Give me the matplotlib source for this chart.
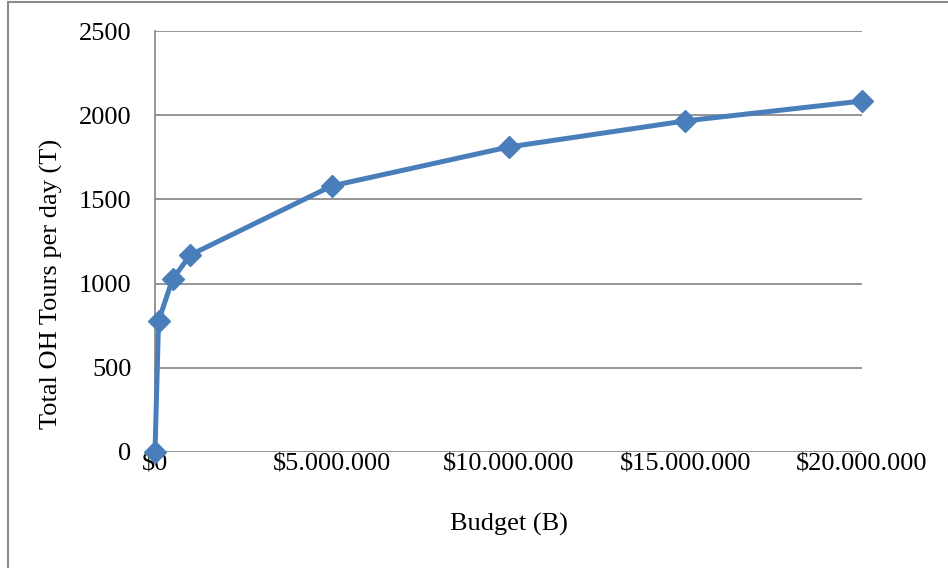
import matplotlib
matplotlib.use("Agg")
import matplotlib.pyplot as plt
from matplotlib.lines import Line2D
from matplotlib.ticker import FuncFormatter

# Budget (B) in dollars and resulting total OH tours per day (T)
budget = [0, 100_000, 500_000, 1_000_000, 5_000_000, 10_000_000, 15_000_000, 20_000_000]
tours = [0, 778, 1028, 1170, 1580, 1811, 1966, 2084]

x_ticks = [0, 5_000_000, 10_000_000, 15_000_000, 20_000_000]
y_ticks = [0, 500, 1000, 1500, 2000, 2500]

plt.rcParams["font.family"] = ["Liberation Serif", "DejaVu Serif"]

W, H = 948, 568
fig = plt.figure(figsize=(W / 100, H / 100), dpi=100)
ax = fig.add_axes([155 / W, 1 - 452 / H, (862 - 155) / W, (452 - 31) / H])

blue = "#4A7EBB"
grid_c = "#8C8C8C"
fs = 19

ax.plot(budget, tours, color=blue, lw=3.6, marker="D", markersize=11.5,
        markerfacecolor=blue, markeredgecolor=blue, solid_joinstyle="round",
        zorder=3, clip_on=False)

ax.set_xlim(0, 20_000_000)
ax.set_ylim(0, 2500)
ax.set_xticks(x_ticks)
ax.set_yticks(y_ticks)


def dollars(v, _pos):
    if v == 0:
        return "$0"
    return "$" + f"{int(v):,}".replace(",", ".")


ax.xaxis.set_major_formatter(FuncFormatter(dollars))
ax.tick_params(axis="both", length=0, labelsize=fs, colors="black")
ax.tick_params(axis="x", pad=1)
ax.tick_params(axis="y", pad=17)

ax.grid(axis="y", color=grid_c, lw=1.3)
ax.set_axisbelow(True)
for side in ("top", "right", "bottom"):
    ax.spines[side].set_visible(False)
ax.spines["left"].set_color(grid_c)
ax.spines["left"].set_linewidth(1.3)

ax.set_xlabel("Budget (B)", fontsize=fs, labelpad=27)
ax.set_ylabel("Total OH Tours per day (T)", fontsize=fs, labelpad=11, y=0.40)

# chart area frame (top and left edges)
fig.add_artist(Line2D([8 / W, 1], [1 - 2 / H, 1 - 2 / H], color=grid_c, lw=1.5))
fig.add_artist(Line2D([8 / W, 8 / W], [0, 1 - 2 / H], color=grid_c, lw=1.5))

fig.savefig("out.png", dpi=100, facecolor="white")
